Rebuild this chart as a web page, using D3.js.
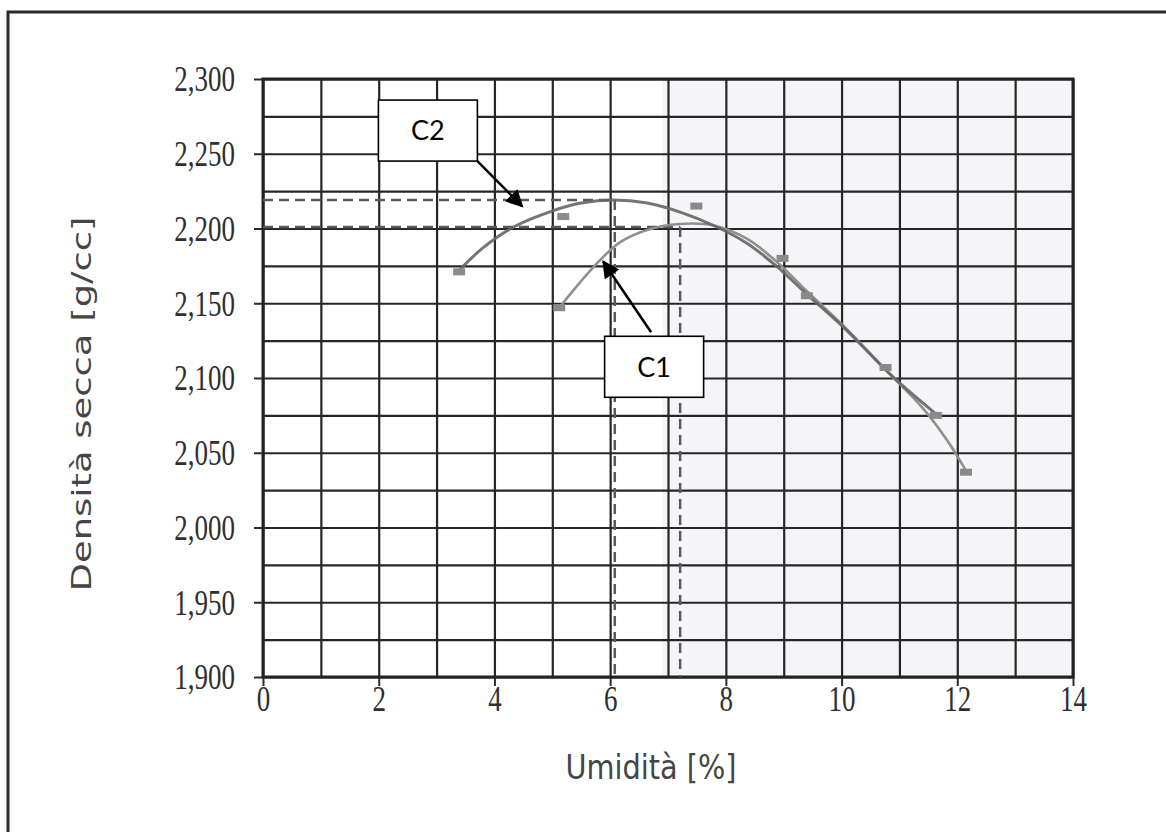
<!DOCTYPE html>
<html>
<head>
<meta charset="utf-8">
<script src="https://cdn.jsdelivr.net/npm/d3@7"></script>
<style>
  html, body { margin: 0; padding: 0; background: #ffffff; }
  svg { display: block; }
</style>
</head>
<body>
<svg id="chart" width="1166" height="832"></svg>
<script>
// Axis ticks
const xTickValues = [0, 2, 4, 6, 8, 10, 12, 14];
const yTickValues = [1.900, 1.950, 2.000, 2.050, 2.100, 2.150, 2.200, 2.250, 2.300];
const yTickLabels = ["1,900", "1,950", "2,000", "2,050", "2,100", "2,150", "2,200", "2,250", "2,300"];

// Compaction curves: moisture [%], dry density [g/cc]
const c2Curve = [
  [3.39, 2.172], [3.80, 2.187], [4.33, 2.201], [5.02, 2.212], [5.50, 2.217],
  [6.06, 2.219], [6.64, 2.217], [7.21, 2.211], [7.79, 2.202], [8.37, 2.190],
  [8.90, 2.174], [9.40, 2.156], [10.03, 2.134], [10.80, 2.104], [11.20, 2.090],
  [11.63, 2.076]
];
const c1Curve = [
  [5.14, 2.148], [5.48, 2.164], [5.83, 2.179], [6.18, 2.191], [6.64, 2.199],
  [7.20, 2.203], [7.79, 2.202], [8.37, 2.193], [8.90, 2.177], [9.40, 2.158],
  [10.03, 2.135], [10.80, 2.104], [11.40, 2.080], [11.83, 2.058], [12.15, 2.038]
];

// Measured points
const c2Points = [[3.39, 2.171], [5.19, 2.208], [7.49, 2.215], [8.98, 2.180], [10.76, 2.107], [11.63, 2.075]];
const c1Points = [[5.12, 2.147], [9.40, 2.155], [12.15, 2.037]];

// Optimum (moisture, max dry density) for each curve
const optimumNames = ["C2", "C1"];
const optimumX = [6.08, 7.21];
const optimumY = [2.219, 2.201];

// Callout labels: box centre and arrow tip in data units
const calloutLabels = ["C2", "C1"];
const calloutBox = [[2.85, 2.2655], [6.76, 2.1075]];
const calloutTip = [[4.48, 2.2148], [5.88, 2.1779]];

const svg = d3.select("#chart");

const x = d3.scaleLinear().domain([0, 14]).range([263, 1073]);
const y = d3.scaleLinear().domain([1.9, 2.3]).range([677, 79]);

const W = x.range()[1] - x.range()[0];
const H = y.range()[0] - y.range()[1];

// Outer frame
svg.append("path")
  .attr("d", "M8,832 V12 H1166")
  .attr("fill", "none")
  .attr("stroke", "#2b2b2b")
  .attr("stroke-width", 3);

// Faint shading of the right part of the plot
svg.append("rect")
  .attr("x", x(6.9)).attr("y", y(2.3))
  .attr("width", x(14) - x(6.9)).attr("height", H)
  .attr("fill", "#f5f5f8");

// Grid
const xGridValues = d3.range(0, 15);
const yGridValues = d3.range(0, 17).map(i => +(1.9 + i * 0.025).toFixed(3));

svg.append("g")
  .attr("transform", `translate(0,${y(1.9)})`)
  .call(d3.axisBottom(x).tickValues(xGridValues).tickSize(-H).tickFormat(""))
  .call(g => g.select(".domain").remove())
  .call(g => g.selectAll("line").attr("stroke", "#262626").attr("stroke-width", 2.2));

svg.append("g")
  .attr("transform", `translate(${x(0)},0)`)
  .call(d3.axisLeft(y).tickValues(yGridValues).tickSize(-W).tickFormat(""))
  .call(g => g.select(".domain").remove())
  .call(g => g.selectAll("line").attr("stroke", "#262626").attr("stroke-width", 2.2));

// Axes with ticks and labels
const yAxis = svg.append("g")
  .attr("transform", `translate(${x(0)},0)`)
  .call(d3.axisLeft(y).tickValues(yTickValues).tickFormat((d, i) => yTickLabels[i])
    .tickSize(9).tickPadding(20).tickSizeOuter(0));
yAxis.select(".domain").remove();
yAxis.selectAll("line").attr("stroke", "#2a2a2a").attr("stroke-width", 2);
yAxis.selectAll("text")
  .attr("x", null).attr("dy", "0.34em")
  .attr("transform", "translate(-28,0) scale(1,1.3)")
  .attr("font-family", "'Liberation Serif', 'Times New Roman', serif")
  .attr("font-size", 27)
  .attr("fill", "#2f2f2f");

const xAxis = svg.append("g")
  .attr("transform", `translate(0,${y(1.9)})`)
  .call(d3.axisBottom(x).tickValues(xTickValues).tickSize(9).tickPadding(10).tickSizeOuter(0));
xAxis.select(".domain").remove();
xAxis.selectAll("line").attr("stroke", "#2a2a2a").attr("stroke-width", 2);
xAxis.selectAll("text")
  .attr("y", null).attr("dy", "0.71em")
  .attr("transform", "translate(0,9) scale(1,1.3)")
  .attr("font-family", "'Liberation Serif', 'Times New Roman', serif")
  .attr("font-size", 27)
  .attr("fill", "#2f2f2f");

// Plot border
svg.append("rect")
  .attr("x", x(0)).attr("y", y(2.3))
  .attr("width", W).attr("height", H)
  .attr("fill", "none")
  .attr("stroke", "#222")
  .attr("stroke-width", 3);

// Dashed optimum guides
const guides = svg.append("g")
  .attr("stroke", "#5a5a5a")
  .attr("stroke-width", 2.5)
  .attr("stroke-dasharray", "10,6")
  .attr("fill", "none");
optimumNames.forEach((name, i) => {
  guides.append("line")
    .attr("x1", x(0)).attr("x2", x(optimumX[i]))
    .attr("y1", y(optimumY[i])).attr("y2", y(optimumY[i]));
  guides.append("line")
    .attr("x1", x(optimumX[i])).attr("x2", x(optimumX[i]))
    .attr("y1", y(optimumY[i])).attr("y2", y(1.9));
});

// Curves
const line = d3.line()
  .x(d => x(d[0])).y(d => y(d[1]))
  .curve(d3.curveCatmullRom.alpha(0.5));

svg.append("path")
  .datum(c1Curve)
  .attr("d", line)
  .attr("fill", "none")
  .attr("stroke", "#8f8f8f")
  .attr("stroke-width", 2.6);

svg.append("path")
  .datum(c2Curve)
  .attr("d", line)
  .attr("fill", "none")
  .attr("stroke", "#666")
  .attr("stroke-width", 3)
  .attr("stroke-opacity", 0.9);

// Measured points
svg.append("g")
  .selectAll("rect")
  .data(c2Points.concat(c1Points))
  .join("rect")
  .attr("x", d => x(d[0]) - 6)
  .attr("y", d => y(d[1]) - 3.5)
  .attr("width", 12)
  .attr("height", 7)
  .attr("fill", "#8a8a8a");

// Callouts
const defs = svg.append("defs");
defs.append("marker")
  .attr("id", "arrowhead")
  .attr("viewBox", "0 0 10 10")
  .attr("refX", 9).attr("refY", 5)
  .attr("markerWidth", 7).attr("markerHeight", 7)
  .attr("markerUnits", "strokeWidth")
  .attr("orient", "auto")
  .append("path")
  .attr("d", "M0,0 L10,5 L0,10 Z")
  .attr("fill", "#000");

const boxW = 99, boxH = 61;
calloutLabels.forEach((label, i) => {
  const cx = x(calloutBox[i][0]);
  const cy = y(calloutBox[i][1]);
  const tx = x(calloutTip[i][0]);
  const ty = y(calloutTip[i][1]);
  // arrow leaves the box corner (C2) or the top edge (C1)
  const sx = i === 0 ? cx + boxW / 2 : cx - 3;
  const sy = i === 0 ? cy + boxH / 2 : cy - boxH / 2 - 4;
  svg.append("line")
    .attr("x1", sx).attr("y1", sy)
    .attr("x2", tx).attr("y2", ty)
    .attr("stroke", "#000")
    .attr("stroke-width", 2.5)
    .attr("marker-end", "url(#arrowhead)");
  svg.append("rect")
    .attr("x", cx - boxW / 2).attr("y", cy - boxH / 2)
    .attr("width", boxW).attr("height", boxH)
    .attr("fill", "#fff")
    .attr("stroke", "#000")
    .attr("stroke-width", 1.6);
  svg.append("text")
    .attr("x", cx).attr("y", cy)
    .attr("dy", "0.36em")
    .attr("text-anchor", "middle")
    .attr("font-family", "Lato, 'Open Sans', sans-serif")
    .attr("font-size", 27)
    .attr("fill", "#000")
    .text(label);
});

// Axis titles
svg.append("text")
  .attr("transform", "translate(651,779) scale(1,1.3)")
  .attr("text-anchor", "middle")
  .attr("font-family", "'DejaVu Sans', Verdana, sans-serif")
  .attr("font-size", 26)
  .attr("textLength", 171)
  .attr("lengthAdjust", "spacingAndGlyphs")
  .attr("fill", "#454545")
  .text("Umidità [%]");

svg.append("text")
  .attr("transform", "translate(91,404) rotate(-90)")
  .attr("text-anchor", "middle")
  .attr("font-family", "'DejaVu Sans', Verdana, sans-serif")
  .attr("font-size", 27)
  .attr("textLength", 375)
  .attr("lengthAdjust", "spacingAndGlyphs")
  .attr("fill", "#454545")
  .text("Densità secca [g/cc]");
</script>
</body>
</html>
